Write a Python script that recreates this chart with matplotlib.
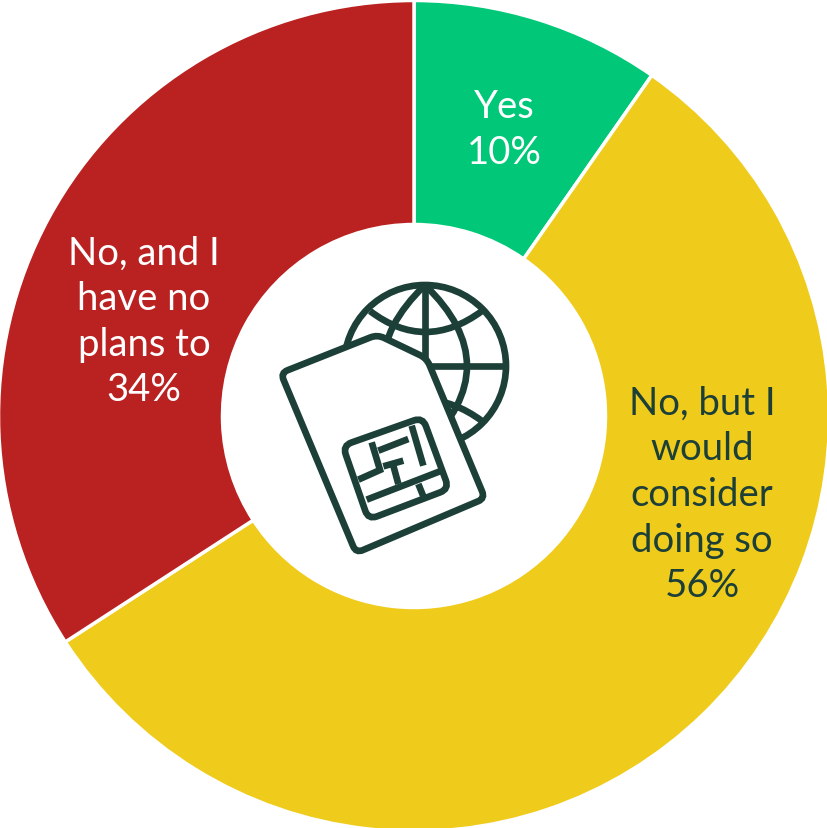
import math
import matplotlib
matplotlib.use("Agg")
import matplotlib.pyplot as plt
from matplotlib.path import Path
from matplotlib.patches import PathPatch, Circle

categories = ["Yes", "No, but I\nwould\nconsider\ndoing so", "No, and I\nhave no\nplans to"]
values = [9.7, 56.15, 34.15]
value_labels = ["10%", "56%", "34%"]
colors = ["#00C878", "#EFCB1B", "#BA2222"]
text_colors = ["white", "#1C3F38", "white"]
label_pos = [(504, 130), (702, 495), (144, 322)]
DARK = "#1C3F38"
W, H = 828, 829
CX, CY, R, RIN = 414, 417, 415.5, 191.5

plt.rcParams["font.family"] = ["Lato", "DejaVu Sans"]
fig = plt.figure(figsize=(W / 100, H / 100), dpi=100, facecolor="white")

ax_pie = fig.add_axes([0, 0, 1, 1])
ax_pie.pie(values, colors=colors, startangle=90, counterclock=False,
           center=(CX, H - CY), radius=R,
           wedgeprops=dict(width=R - RIN, edgecolor="white", linewidth=2.5))
ax_pie.set_xlim(0, W)
ax_pie.set_ylim(0, H)
ax_pie.set_aspect("equal")
ax_pie.axis("off")

ax_top = fig.add_axes([0, 0, 1, 1])
ax_top.set_xlim(0, W)
ax_top.set_ylim(H, 0)
ax_top.axis("off")
ax_top.patch.set_alpha(0)

for cat, val, col, pos in zip(categories, value_labels, text_colors, label_pos):
    ax_top.text(pos[0], pos[1], f"{cat}\n{val}", color=col, fontsize=27.5, weight="normal",
                ha="center", va="center", linespacing=1.33, multialignment="center")

LW = 4.8
def z(x, y):
    return (270 + x / 3, 270 + y / 3)

def stroke(*pts):
    verts = [z(*p) for p in pts]
    codes = [Path.MOVETO] + [Path.LINETO] * (len(verts) - 1)
    ax_top.add_patch(PathPatch(Path(verts, codes), fill=False, edgecolor=DARK, lw=LW, capstyle="butt", zorder=3))

def rounded(pts, rad, fc, zorder):
    verts, codes = [], []
    n = len(pts)
    for i in range(n):
        p0, p1, p2 = pts[i - 1], pts[i], pts[(i + 1) % n]
        d1 = math.dist(p0, p1); d2 = math.dist(p1, p2)
        a = (p1[0] + (p0[0] - p1[0]) * rad / d1, p1[1] + (p0[1] - p1[1]) * rad / d1)
        b = (p1[0] + (p2[0] - p1[0]) * rad / d2, p1[1] + (p2[1] - p1[1]) * rad / d2)
        verts += [z(*a), z(*p1), z(*b)]
        codes += [Path.MOVETO if i == 0 else Path.LINETO, Path.CURVE3, Path.CURVE3]
    verts.append(verts[0]); codes.append(Path.CLOSEPOLY)
    ax_top.add_patch(PathPatch(Path(verts, codes), facecolor=fc, edgecolor=DARK, lw=LW, zorder=zorder))

# globe
gx, gy, gr = 425, 367, 81
ax_top.add_patch(Circle((gx, gy), gr, fill=False, edgecolor=DARK, lw=LW, zorder=2))
def curve(p0, c, p1):
    ax_top.add_patch(PathPatch(Path([p0, c, p1], [Path.MOVETO, Path.CURVE3, Path.CURVE3]),
                               fill=False, edgecolor=DARK, lw=LW, zorder=2))
ax_top.plot([gx, gx], [gy - gr, gy + gr], color=DARK, lw=LW, zorder=2, solid_capstyle="butt")
ax_top.plot([gx - gr, gx + gr], [gy, gy], color=DARK, lw=LW, zorder=2, solid_capstyle="butt")
curve((gx, gy - gr), (gx + 84, gy), (gx, gy + gr))
curve((gx, gy - gr), (gx - 84, gy), (gx, gy + gr))
curve((370, 312), (425, 354), (482, 312))
curve((370, 422), (425, 380), (482, 422))

# SIM card (white body covers the globe)
rounded([(32, 312), (322, 197), (470, 268), (645, 688), (258, 852)], 22, "white", 2.5)
# chip
rounded([(218, 530), (458, 445), (537, 660), (295, 752)], 28, "white", 3)
stroke((305, 520), (330, 603), (265, 632))
stroke((325, 545), (415, 510))
stroke((425, 470), (460, 590))
stroke((340, 592), (400, 575))
stroke((370, 590), (385, 645))
stroke((290, 692), (520, 603))
stroke((445, 645), (460, 682))

fig.savefig("out.png", dpi=100, facecolor="white")
